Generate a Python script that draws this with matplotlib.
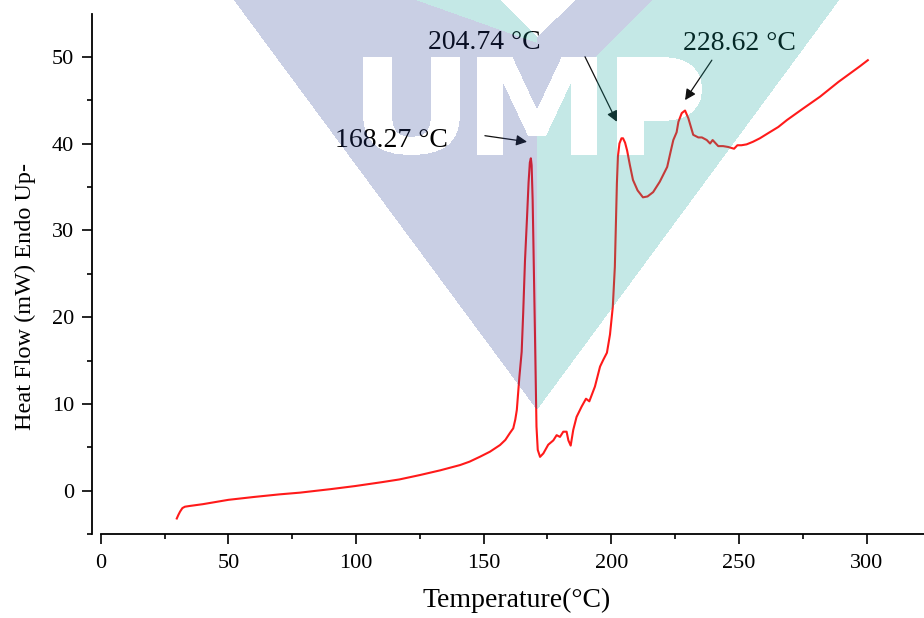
import numpy as np
import matplotlib
matplotlib.use("Agg")
import matplotlib.pyplot as plt
from matplotlib.path import Path
from matplotlib.textpath import TextPath
from matplotlib.font_manager import FontProperties
from matplotlib.transforms import Affine2D
from matplotlib.ticker import MultipleLocator

plt.rcParams.update({"font.family": ["Liberation Serif", "DejaVu Serif"], "font.size": 16})

# DSC trace (temperature in °C, heat flow in mW)
temp = [29.8, 30.4, 31.1, 32.0, 33.0, 35.0, 40.0, 50.0, 60.0, 70.0, 78.1, 84.6, 90.0, 99.7,
        110.0, 117.0, 125.1, 133.0, 140.8, 144.5, 148.6, 152.5, 156.4, 158.5, 160.3, 161.6,
        162.4, 163.0, 164.0, 164.9, 165.5, 166.2, 167.0, 167.6, 168.1, 168.5, 168.8, 169.2,
        169.5, 170.1, 170.5, 170.7, 171.2, 172.1, 173.4, 175.3, 177.3, 178.6, 179.9, 181.2,
        182.5, 183.2, 184.1, 185.1, 186.4, 188.4, 190.1, 191.4, 193.6, 195.6, 196.9, 198.3,
        199.5, 200.6, 201.4, 202.2, 202.6, 203.2, 204.0, 204.6, 205.4, 206.2, 207.3, 208.5,
        210.3, 212.4, 214.2, 216.4, 219.0, 221.9, 223.2, 224.3, 225.6, 226.3, 227.6, 228.9,
        230.2, 232.1, 234.1, 235.5, 237.4, 238.7, 239.7, 241.9, 243.8, 245.8, 248.1, 249.4,
        251.0, 253.0, 255.5, 258.2, 261.5, 265.4, 268.8, 275.0, 281.8, 289.0, 297.4, 300.5]
heat = [-3.2, -2.8, -2.4, -2.0, -1.84, -1.75, -1.55, -1.05, -0.72, -0.42, -0.22, 0.0, 0.18, 0.54,
        0.98, 1.3, 1.81, 2.35, 2.96, 3.35, 3.92, 4.5, 5.26, 5.85, 6.65, 7.19,
        8.2, 9.3, 13.1, 16.0, 20.5, 26.5, 31.5, 35.5, 37.8, 38.3, 37.5, 33.5,
        28.5, 18.2, 11.0, 7.4, 4.7, 3.9, 4.3, 5.3, 5.8, 6.4, 6.2, 6.8,
        6.8, 5.8, 5.2, 7.0, 8.5, 9.7, 10.6, 10.3, 12.0, 14.3, 15.1, 15.9,
        18.0, 21.2, 25.8, 35.4, 38.5, 40.0, 40.6, 40.6, 40.1, 39.2, 37.5, 35.8,
        34.6, 33.8, 33.9, 34.4, 35.6, 37.3, 39.0, 40.4, 41.3, 42.5, 43.5, 43.8,
        42.9, 41.0, 40.7, 40.7, 40.4, 40.0, 40.4, 39.7, 39.7, 39.6, 39.4, 39.8,
        39.8, 39.9, 40.2, 40.6, 41.2, 41.9, 42.7, 44.0, 45.4, 47.1, 48.9, 49.6]

peak_text = ["168.27 °C", "204.74 °C", "228.62 °C"]
text_xy = [(91.7, 39.6), (128.2, 50.9), (228.1, 50.8)]
arrow_tail = [(150.5, 40.9), (189.7, 50.0), (239.4, 49.6)]
arrow_head = [(167.0, 40.2), (202.2, 42.5), (228.9, 45.0)]

W, H = 924, 618
fig = plt.figure(figsize=(W / 100, H / 100), dpi=100)
ax = fig.add_axes([92 / W, 83.7 / H, 832 / W, 520.3 / H])

ax.plot(temp, heat, color="#ff1a1a", lw=1.5)

ax.set_xlim(-3.41, 322.5)
ax.set_ylim(-5.02, 54.92)
for s in ("top", "right"):
    ax.spines[s].set_visible(False)
ax.spines["bottom"].set_bounds(0, 322.5)
for s in ("left", "bottom"):
    ax.spines[s].set_linewidth(1.3)
ax.xaxis.set_major_locator(MultipleLocator(50))
ax.xaxis.set_minor_locator(MultipleLocator(25))
ax.yaxis.set_major_locator(MultipleLocator(10))
ax.yaxis.set_minor_locator(MultipleLocator(5))
ax.tick_params(which="major", direction="out", length=7, width=1.2, labelsize=16)
ax.tick_params(which="minor", direction="out", length=3.5, width=1.2)
ax.tick_params(axis="x", which="major", pad=7)
ax.tick_params(axis="y", which="major", pad=6)

ax.set_xlabel("Temperature(°C)", fontsize=20)
ax.xaxis.set_label_coords(0.51, -0.103)
ax.set_ylabel("Heat Flow (mW) Endo Up-", fontsize=17.5)
ax.yaxis.set_label_coords(-0.067, 0.458)

for t, (tx, ty), tail, head in zip(peak_text, text_xy, arrow_tail, arrow_head):
    ax.text(tx, ty, t, fontsize=20, ha="left", va="baseline")
    ax.annotate("", xy=head, xytext=tail,
                arrowprops=dict(arrowstyle="-|>", color="#111111", lw=0.9,
                                mutation_scale=16, shrinkA=0, shrinkB=0))

# semi-transparent university watermark laid over the whole picture (pixel coords)
yy, xx = np.mgrid[0:H, 0:W] + 0.5
pts = np.column_stack([xx.ravel(), yy.ravel()])


def inside(verts):
    return Path(verts).contains_points(pts).reshape(H, W)


lav = inside([(233, -1), (413, -1), (537, 43), (537, 410)])
lav |= inside([(577, -1), (653, -1), (537, 116), (537, 37)])
teal = inside([(413, -1), (500, -1), (537, 37), (537, 43)])
teal |= inside([(653, -1), (840, -1), (537, 410), (537, 116)])

fp = FontProperties(family="DejaVu Sans", weight="bold")
holes = np.zeros((H, W), bool)
for ch, (x0, x1) in zip("UMP", [(363, 460), (477, 597), (617, 702)]):
    tp = TextPath((0, 0), ch, prop=fp, size=100)
    bb = tp.get_extents()
    tr = (Affine2D().translate(-bb.x0, -bb.y0)
          .scale((x1 - x0) / bb.width, -(155 - 57) / bb.height).translate(x0, 155))
    holes |= tr.transform_path(tp).contains_points(pts).reshape(H, W)

over = np.zeros((H, W, 4))
over[lav] = [39 / 255, 63 / 255, 147 / 255, 0.25]
over[teal] = [19 / 255, 163 / 255, 155 / 255, 0.25]
over[holes] = 0
fig.figimage(over, 0, 0, origin="upper", zorder=10)

fig.savefig("out.png", dpi=100)
